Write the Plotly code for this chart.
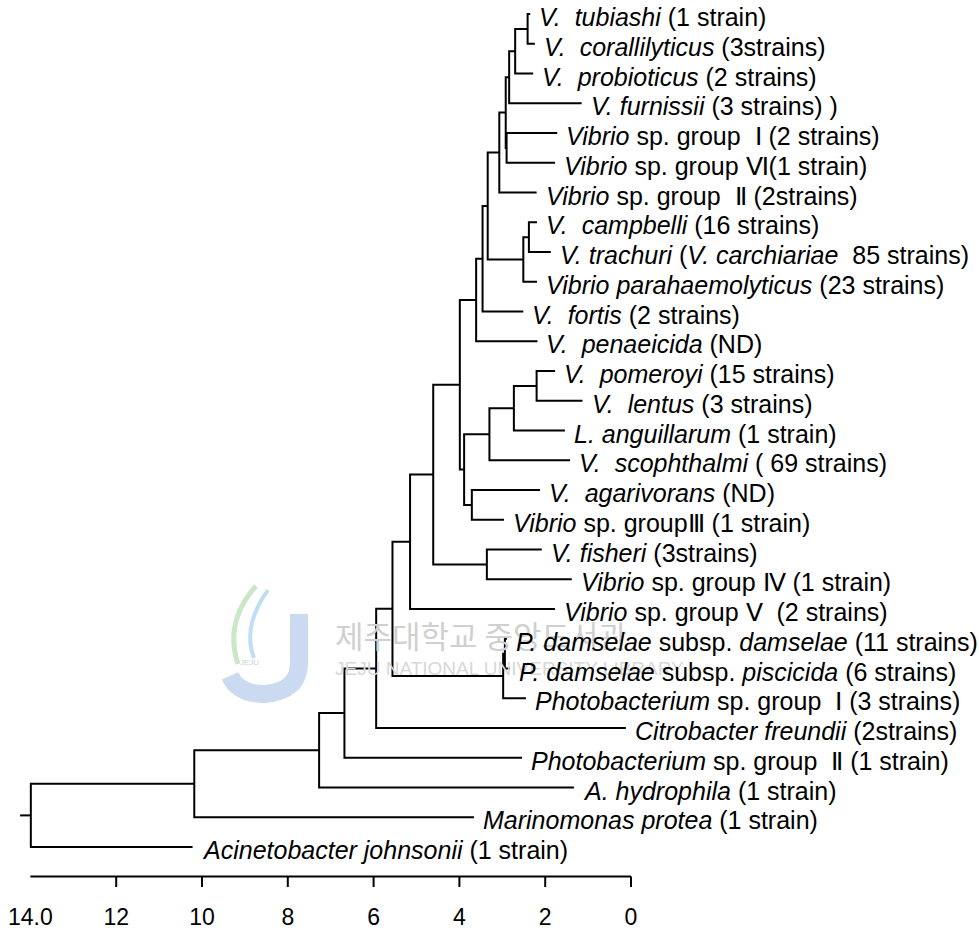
import plotly.graph_objects as go

# ---------------- data ----------------
NB = "\u00a0"
leaf_labels = [
    f"<i>V.{NB} tubiashi</i> (1 strain)",
    f"<i>V.{NB} corallilyticus</i> (3strains)",
    f"<i>V.{NB} probioticus</i> (2 strains)",
    "<i>V. furnissii</i> (3 strains) )",
    f"<i>Vibrio</i> sp. group{NB} Ⅰ (2 strains)",
    "<i>Vibrio</i> sp. group Ⅵ(1 strain)",
    f"<i>Vibrio</i> sp. group{NB} Ⅱ (2strains)",
    f"<i>V.{NB} campbelli</i> (16 strains)",
    f"<i>V. trachuri</i> (<i>V. carchiariae</i>{NB} 85 strains)",
    "<i>Vibrio parahaemolyticus</i> (23 strains)",
    f"<i>V.{NB} fortis</i> (2 strains)",
    f"<i>V.{NB} penaeicida</i> (ND)",
    f"<i>V.{NB} pomeroyi</i> (15 strains)",
    f"<i>V.{NB} lentus</i> (3 strains)",
    "<i>L. anguillarum</i> (1 strain)",
    f"<i>V.{NB} scophthalmi</i> ( 69 strains)",
    f"<i>V.{NB} agarivorans</i> (ND)",
    "<i>Vibrio</i> sp. groupⅢ (1 strain)",
    "<i>V. fisheri</i> (3strains)",
    "<i>Vibrio</i> sp. group Ⅳ (1 strain)",
    f"<i>Vibrio</i> sp. group Ⅴ{NB} (2 strains)",
    "<i>P. damselae</i> subsp. <i>damselae</i> (11 strains)",
    "<i>P. damselae</i> subsp. <i>piscicida</i> (6 strains)",
    f"<i>Photobacterium</i> sp. group{NB} Ⅰ (3 strains)",
    "<i>Citrobacter freundii</i> (2strains)",
    f"<i>Photobacterium</i> sp. group{NB} Ⅱ (1 strain)",
    "<i>A. hydrophila</i> (1 strain)",
    "<i>Marinomonas protea</i> (1 strain)",
    "<i>Acinetobacter johnsonii</i> (1 strain)",
]

# distance at which each leaf branch ends
leaf_ends = [2.35, 2.24, 2.28, 1.15, 1.72, 1.77, 2.20, 2.19, 1.87, 2.19,
             2.51, 2.18, 1.77, 1.13, 1.54, 1.42, 2.12, 2.96, 2.08, 1.38,
             1.77, 2.89, 2.82, 2.45, 0.12, 2.54, 1.33, 3.66, 10.22]

# internal nodes: leaves are 0..28, nodes are numbered 29.. in this order
node_children = [
    (0, 1), (29, 2), (30, 3), (4, 5), (31, 32), (33, 6),
    (7, 8), (35, 9), (34, 36), (37, 10), (38, 11),
    (12, 13), (40, 14), (41, 15), (16, 17), (42, 43), (39, 44),
    (18, 19), (45, 46), (47, 20),
    (21, 22), (49, 23), (48, 50), (51, 24), (52, 25), (53, 26),
    (54, 27), (55, 28),
]
node_heights = [
    2.41, 2.70, 2.84, 2.90, 2.92, 3.07,
    2.38, 2.51, 3.34, 3.46, 3.61,
    2.20, 2.73, 3.30, 3.71, 3.89, 3.99,
    3.36, 4.61, 5.15,
    2.94, 2.98, 5.56, 5.94, 6.68, 7.27,
    10.18, 13.99,
]
root_stub_end = 14.24

tick_values = [14, 12, 10, 8, 6, 4, 2, 0]
tick_labels = ["14.0", "12", "10", "8", "6", "4", "2", "0"]

# ---------------- geometry helpers ----------------
W, H = 979, 933
X0, PXU = 631.0, 42.9           # pixel of distance 0, pixels per unit
Y0, PYU = 14.0, 29.75           # pixel of first leaf, pixels per leaf


def px_to_d(px):
    return (X0 - px) / PXU


def py_to_i(py):
    return (py - Y0) / PYU


n_leaves = len(leaf_labels)
xpos = list(leaf_ends)
ypos = [float(i) for i in range(n_leaves)]
for (a, b), h in zip(node_children, node_heights):
    xpos.append(h)
    ypos.append((ypos[a] + ypos[b]) / 2)

tx, ty = [], []
for (a, b), h in zip(node_children, node_heights):
    tx += [xpos[a], h, h, xpos[b], None]
    ty += [ypos[a], ypos[a], ypos[b], ypos[b], None]
root = n_leaves + len(node_children) - 1
tx += [xpos[root], root_stub_end, None]
ty += [ypos[root], ypos[root], None]

axis_y = py_to_i(876.5)
tick_y2 = py_to_i(887)
ax_x = [tick_values[0], tick_values[-1], None]
ax_y = [axis_y, axis_y, None]
for v in tick_values[1:]:
    ax_x += [v, v, None]
    ax_y += [axis_y, tick_y2, None]

fig = go.Figure()


# watermark (faint, behind everything)
def pp(x, y):
    return f"{x / W:.4f},{1 - y / H:.4f}"


shapes = [
    dict(type="path", xref="paper", yref="paper", layer="below",
         path=f"M {pp(299, 614)} L {pp(299, 662)} Q {pp(299, 692)} {pp(264, 694)} Q {pp(238, 694)} {pp(230, 676)}",
         line=dict(color="rgba(160,188,228,0.55)", width=18)),
    dict(type="path", xref="paper", yref="paper", layer="below",
         path=f"M {pp(256, 586)} Q {pp(224, 622)} {pp(238, 664)}",
         line=dict(color="rgba(170,215,160,0.6)", width=5)),
    dict(type="path", xref="paper", yref="paper", layer="below",
         path=f"M {pp(268, 590)} Q {pp(242, 626)} {pp(254, 658)}",
         line=dict(color="rgba(150,200,235,0.6)", width=4)),
]

fig.add_trace(go.Scatter(x=tx, y=ty, mode="lines",
                         line=dict(color="black", width=2),
                         hoverinfo="skip", showlegend=False))
fig.add_trace(go.Scatter(x=ax_x, y=ax_y, mode="lines",
                         line=dict(color="black", width=2),
                         hoverinfo="skip", showlegend=False))
fig.add_trace(go.Scatter(x=tick_values, y=[py_to_i(919)] * len(tick_values),
                         mode="text", text=tick_labels,
                         textposition="middle center",
                         textfont=dict(family="Liberation Sans, Arial", size=23, color="black"),
                         hoverinfo="skip", showlegend=False, cliponaxis=False))

annotations = []
# watermark texts first so that they sit underneath the labels
annotations.append(dict(x=333 / W, y=1 - 634 / H, xref="paper", yref="paper",
                        text="제주대학교 중앙도서관", showarrow=False, xanchor="left",
                        yanchor="middle",
                        font=dict(family="Noto Sans CJK KR", size=31, color="#d0d0d0")))
annotations.append(dict(x=333 / W, y=1 - 668 / H, xref="paper", yref="paper",
                        text="JEJU NATIONAL UNIVERSITY LIBRARY", showarrow=False, xanchor="left",
                        yanchor="middle",
                        font=dict(family="Liberation Sans, Arial", size=19, color="#d8d8d8")))
annotations.append(dict(x=250 / W, y=1 - 662 / H, xref="paper", yref="paper",
                        text="JEJU", showarrow=False, xanchor="center",
                        yanchor="middle",
                        font=dict(family="Liberation Sans, Arial", size=8, color="#cfcfcf")))

for i, lab in enumerate(leaf_labels):
    annotations.append(dict(x=leaf_ends[i], y=i, xref="x", yref="y",
                            text=lab, showarrow=False, xanchor="left",
                            yanchor="middle", xshift=7, yshift=-3,
                            font=dict(family="Liberation Sans, Arial", size=25, color="black")))

fig.update_layout(
    width=W, height=H,
    margin=dict(l=0, r=0, t=0, b=0, pad=0),
    paper_bgcolor="white", plot_bgcolor="white",
    xaxis=dict(range=[px_to_d(0), px_to_d(W)], visible=False, fixedrange=True),
    yaxis=dict(range=[py_to_i(H), py_to_i(0)], visible=False, fixedrange=True),
    annotations=annotations,
    shapes=shapes,
)

fig.write_html("out.html")
